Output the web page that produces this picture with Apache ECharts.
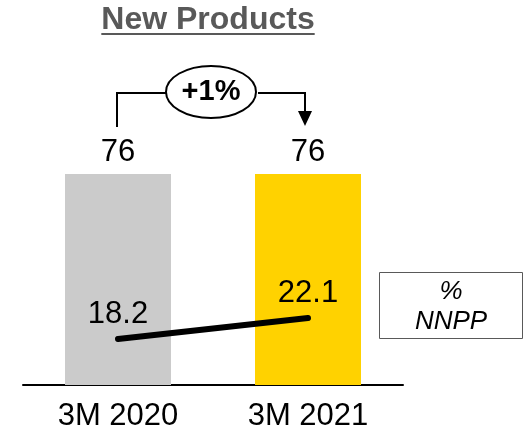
<!DOCTYPE html>
<html>
<head>
<meta charset="utf-8">
<script src="https://cdn.jsdelivr.net/npm/echarts@6/dist/echarts.min.js"></script>
<style>
  html, body { margin: 0; padding: 0; background: #fff; }
  #chart { width: 528px; height: 433px; }
</style>
</head>
<body>
<div id="chart"></div>
<script>
// Periods on the x axis
const periods = ['3M 2020', '3M 2021'];
// New products count (bars)
const newProducts = [76, 76];
// % NNPP (line)
const nnppShare = [18.2, 22.1];
// Growth annotation between the two bars
const growthLabel = '+1%';
const titleText = 'New Products';
const legendText = ['%', 'NNPP'];

const FONT = '"Liberation Sans", Arial, sans-serif';
const barColors = ['#cbcbcb', '#ffd200'];

const chart = echarts.init(document.getElementById('chart'), null, { renderer: 'canvas' });

const option = {
  animation: false,
  backgroundColor: '#ffffff',
  grid: { left: 23, right: 125, top: 100, bottom: 48, containLabel: false },
  xAxis: {
    type: 'category',
    data: periods,
    axisLine: { show: true, lineStyle: { color: '#000', width: 2 } },
    axisTick: { show: false },
    axisLabel: { fontFamily: FONT, fontSize: 31, color: '#000', margin: 16 }
  },
  yAxis: [
    { type: 'value', min: 0, max: 102.6, show: false, splitLine: { show: false } },
    { type: 'value', min: 9.66, max: 62.6, show: false, splitLine: { show: false } }
  ],
  series: [
    {
      type: 'bar',
      data: newProducts.map((v, i) => ({ value: v, itemStyle: { color: barColors[i] } })),
      barWidth: 106,
      label: {
        show: true, position: 'top', distance: 6,
        fontFamily: FONT, fontSize: 31, color: '#000'
      },
      z: 2
    },
    {
      type: 'line',
      yAxisIndex: 1,
      data: nnppShare,
      symbol: 'circle',
      symbolSize: 1,
      showSymbol: true,
      itemStyle: { color: 'rgba(0,0,0,0)' },
      lineStyle: { color: '#000', width: 6, cap: 'round' },
      label: {
        show: true, position: 'top', distance: 9,
        fontFamily: FONT, fontSize: 31, color: '#000'
      },
      z: 3
    }
  ]
};
chart.setOption(option);

// Annotation elements positioned from the chart's own scales
const x0 = chart.convertToPixel({ xAxisIndex: 0 }, periods[0]);
const x1 = chart.convertToPixel({ xAxisIndex: 0 }, periods[1]);
const barTop = chart.convertToPixel({ yAxisIndex: 0 }, Math.max.apply(null, newProducts));
const bracketY = barTop - 81;
const bracketLow = barTop - 47;
const midX = (x0 + x1) / 2;
const rx = 45, ry = 26;
const arrowX = x1 - 3;

// Title underline width from measured text
const ctx = document.createElement('canvas').getContext('2d');
ctx.font = 'bold 32px ' + FONT;
const titleW = ctx.measureText(titleText).width;
const titleX = midX - 5;

chart.setOption({
  graphic: [
    {
      type: 'text', left: titleX - titleW / 2, top: 4,
      style: { text: titleText, font: 'bold 32px ' + FONT, fill: '#595959' }
    },
    {
      type: 'line',
      shape: { x1: titleX - titleW / 2, y1: 34, x2: titleX + titleW / 2, y2: 34 },
      style: { stroke: '#595959', lineWidth: 2 }
    },
    {
      type: 'polyline',
      shape: { points: [[x0 - 1, bracketLow], [x0 - 1, bracketY], [midX - rx, bracketY]] },
      style: { stroke: '#000', lineWidth: 2, fill: null }
    },
    {
      type: 'polyline',
      shape: { points: [[midX + rx, bracketY], [arrowX, bracketY], [arrowX, bracketLow - 14]] },
      style: { stroke: '#000', lineWidth: 2, fill: null }
    },
    {
      type: 'polygon',
      shape: { points: [[arrowX - 7, bracketLow - 16], [arrowX + 7, bracketLow - 16], [arrowX, bracketLow - 1]] },
      style: { fill: '#000' }
    },
    {
      type: 'ellipse',
      shape: { cx: midX - 2, cy: bracketY - 1, rx: rx, ry: ry },
      style: { fill: '#fff', stroke: '#000', lineWidth: 2 }
    },
    {
      type: 'text', x: midX - 2, y: bracketY - 1,
      style: {
        text: growthLabel, font: 'bold 29px ' + FONT, fill: '#000',
        align: 'center', verticalAlign: 'middle'
      }
    },
    {
      type: 'rect',
      shape: { x: 379.5, y: 272.5, width: 143, height: 66 },
      style: { fill: '#fff', stroke: '#595959', lineWidth: 1 }
    },
    {
      type: 'text', x: 451, y: 292,
      style: {
        text: legendText[0], font: 'italic 26px ' + FONT, fill: '#000',
        align: 'center', verticalAlign: 'middle'
      }
    },
    {
      type: 'text', x: 451, y: 322,
      style: {
        text: legendText[1], font: 'italic 26px ' + FONT, fill: '#000',
        align: 'center', verticalAlign: 'middle'
      }
    }
  ]
});
</script>
</body>
</html>
